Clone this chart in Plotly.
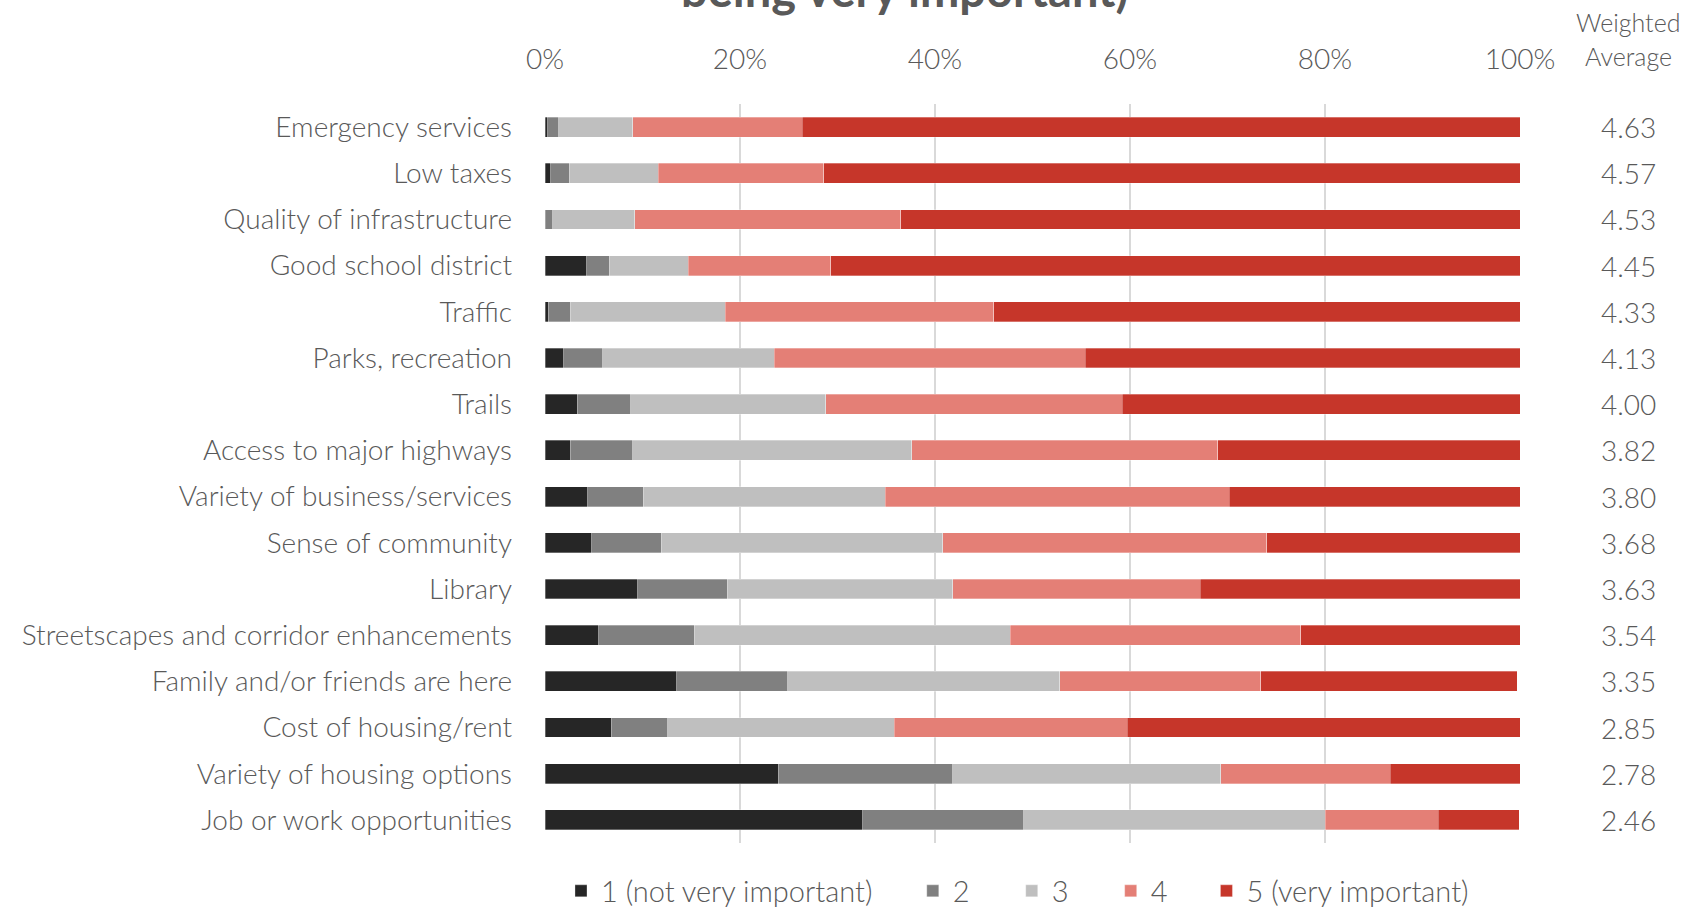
import plotly.graph_objects as go

categories = [
    "Emergency services", "Low taxes", "Quality of infrastructure",
    "Good school district", "Traffic", "Parks, recreation", "Trails",
    "Access to major highways", "Variety of business/services",
    "Sense of community", "Library", "Streetscapes and corridor enhancements",
    "Family and/or friends are here", "Cost of housing/rent",
    "Variety of housing options", "Job or work opportunities",
]
rating_1 = [0.3, 0.6, 0.0, 4.3, 0.35, 1.9, 3.3, 2.6, 4.4, 4.8, 9.5, 5.5, 13.5, 6.8, 23.9, 32.6]
rating_2 = [1.1, 1.9, 0.8, 2.3, 2.25, 4.0, 5.5, 6.4, 5.7, 7.1, 9.2, 9.8, 11.4, 5.8, 17.9, 16.5]
rating_3 = [7.6, 9.1, 8.4, 8.1, 15.9, 17.6, 20.0, 28.6, 24.8, 28.9, 23.1, 32.4, 27.9, 23.2, 27.5, 30.9]
rating_4 = [17.4, 17.0, 27.3, 14.6, 27.5, 31.9, 30.4, 31.4, 35.3, 33.2, 25.4, 29.8, 20.6, 23.9, 17.4, 11.6]
rating_5 = [73.6, 71.4, 63.5, 70.7, 54.0, 44.6, 40.8, 31.0, 29.8, 26.0, 32.8, 22.5, 26.3, 40.3, 13.3, 8.3]
weighted_avg = ["4.63", "4.57", "4.53", "4.45", "4.33", "4.13", "4.00", "3.82",
                "3.80", "3.68", "3.63", "3.54", "3.35", "2.85", "2.78", "2.46"]
series_names = ["1 (not very important)", "2", "3", "4", "5 (very important)"]
series_colors = ["#262626", "#808080", "#bfbfbf", "#e47f76", "#c6362a"]
x_ticks = [0, 20, 40, 60, 80, 100]

FONT = "Lato, 'Open Sans', sans-serif"
TXT = "#595959"

# left edge of each legend entry (paper x)
legend_x = [0.0164, 0.3772, 0.4787, 0.5802, 0.6784]

fig = go.Figure()
legend_layouts = {}
for i, (name, vals, col) in enumerate(zip(series_names,
                                          [rating_1, rating_2, rating_3, rating_4, rating_5],
                                          series_colors)):
    lg = "legend" if i == 0 else f"legend{i + 1}"
    fig.add_trace(go.Bar(
        y=categories, x=vals, name=name, orientation="h", legend=lg,
        marker=dict(color=col, line=dict(color="rgba(255,255,255,0.6)", width=0.5)),
    ))
    legend_layouts[lg] = dict(
        x=legend_x[i], xanchor="left", y=0.0198, yref="container",
        yanchor="middle", orientation="h", bgcolor="rgba(0,0,0,0)",
        font=dict(family=FONT, size=29, color=TXT, weight=300),
    )

for cat, v in zip(categories, weighted_avg):
    fig.add_annotation(x=1.111, xref="paper", y=cat, yref="y", text=v,
                       showarrow=False, xanchor="center",
                       font=dict(family=FONT, size=28, color=TXT, weight=300))

fig.add_annotation(x=1.111, xref="paper", y=1.1116, yref="paper",
                   text="Weighted", showarrow=False,
                   xanchor="center", yanchor="middle",
                   font=dict(family=FONT, size=25, color=TXT, weight=300))
fig.add_annotation(x=1.111, xref="paper", y=1.0649, yref="paper",
                   text="Average", showarrow=False,
                   xanchor="center", yanchor="middle",
                   font=dict(family=FONT, size=25, color=TXT, weight=300))

fig.add_annotation(x=0.369, xref="paper", y=1.1555, yref="paper",
                   text="<b>being very important)</b>", showarrow=False,
                   xanchor="center", yanchor="middle",
                   font=dict(family=FONT, size=47, color=TXT))

fig.update_layout(
    width=1686, height=909,
    margin=dict(l=545, r=166, t=104, b=66, autoexpand=False),
    barmode="stack", bargap=0.57,
    plot_bgcolor="white", paper_bgcolor="white",
    font=dict(family=FONT, size=28, color=TXT, weight=300),
    showlegend=True,
    xaxis=dict(side="top", range=[0, 100], tickvals=x_ticks,
               ticktext=[f"{t}%" for t in x_ticks],
               showgrid=True, gridcolor="#d9d9d9", gridwidth=1.5,
               zeroline=False, showline=False, ticks="",
               ticklabelstandoff=28,
               tickfont=dict(size=28, color=TXT, weight=300)),
    yaxis=dict(categoryorder="array", categoryarray=categories,
               autorange="reversed", showgrid=False, zeroline=False,
               showline=False, ticks="", ticklabelstandoff=32,
               tickfont=dict(size=28, color=TXT, weight=300)),
    **legend_layouts,
)

fig.write_html("out.html", config={"displayModeBar": False},
               post_script="document.body.style.margin='0';")
